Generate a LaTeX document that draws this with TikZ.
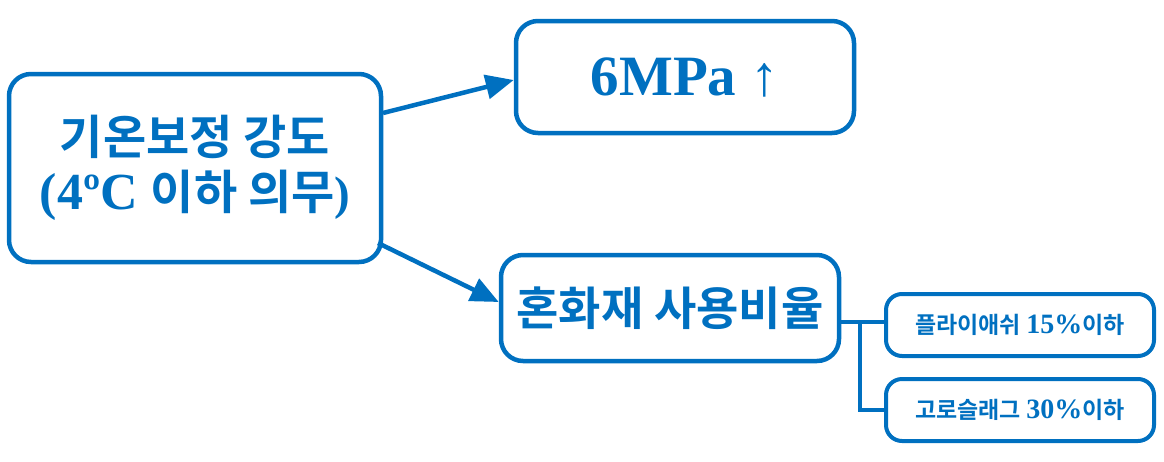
\documentclass[tikz,border=0pt]{standalone}
\usepackage{fontspec}
\newfontfamily\kr{Noto Sans CJK KR}[BoldFont={* Bold}]
\newfontfamily\tnr{Liberation Serif}
\usetikzlibrary{arrows.meta}
\definecolor{bl}{HTML}{0070C0}
\begin{document}
\begin{tikzpicture}[x=1pt,y=-1pt,
  box/.style={draw=bl,line width=4.5pt,rounded corners=22pt,text=bl,font=\bfseries},
  conn/.style={draw=bl,line width=4.5pt},
  arr/.style={conn,-{Triangle[length=28pt,width=24pt]}}]
\useasboundingbox (0,0) rectangle (1164,461);
\node[box,minimum width=372pt,minimum height=188pt,align=center] (a) at (195,168)
  {\kr\fontsize{47}{65}\selectfont 기온보정 강도\\[10pt]\tnr\fontsize{52}{65}\selectfont(4ºC \kr\fontsize{47}{65}\selectfont 이하 의무\tnr)};
\node[box,minimum width=338pt,minimum height=112pt] (b) at (685,77)
  {\tnr\fontsize{57}{60}\selectfont 6MPa ↑};
\node[box,minimum width=338pt,minimum height=106pt] (c) at (670,308)
  {\kr\fontsize{46}{50}\selectfont 혼화재 사용비율};
\node[box,rounded corners=16pt,line width=4pt,minimum width=268pt,minimum height=62pt] (d) at (1020,325)
  {\kr\fontsize{23}{26}\selectfont 플라이애쉬 \tnr\fontsize{28}{30}\selectfont 15\%\kr\fontsize{23}{26}\selectfont 이하};
\node[box,rounded corners=16pt,line width=4pt,minimum width=268pt,minimum height=62pt] (e) at (1020,410)
  {\kr\fontsize{23}{26}\selectfont 고로슬래그 \tnr\fontsize{28}{30}\selectfont 30\%\kr\fontsize{23}{26}\selectfont 이하};
\draw[arr] (383,113) -- (b.west|-0,80);
\draw[arr] (378,243) -- (c.west|-0,302);
\coordinate (j) at (860,322);
\draw[conn] (c.east|-j) -- (d.west|-j);
\draw[conn] (j) |- (e.west);
\end{tikzpicture}
\end{document}
